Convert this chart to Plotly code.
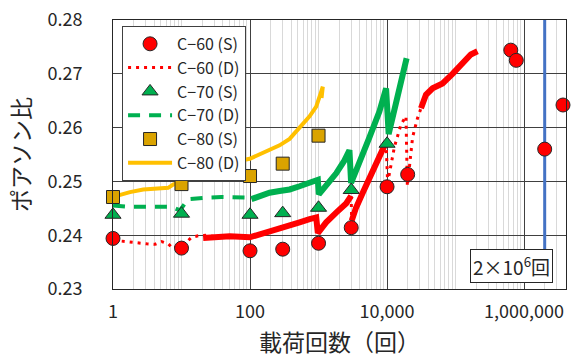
import plotly.graph_objects as go

# ---- static tests (S): cycles and Poisson's ratio ----
c60_s_n = [1, 10, 100, 300, 1000, 3000, 10000, 20000, 640000, 770000, 2000000, 3700000]
c60_s_v = [0.2394, 0.2376, 0.2371, 0.2374, 0.2385, 0.2414, 0.2490, 0.2513, 0.2744, 0.2725, 0.2560, 0.2642]

c70_s_n = [1, 10, 100, 300, 1000, 3000, 10000]
c70_s_v = [0.2438, 0.2440, 0.2438, 0.2441, 0.2451, 0.2484, 0.2570]

c80_s_n = [1, 10, 100, 300, 1000]
c80_s_v = [0.2471, 0.2495, 0.2510, 0.2533, 0.2585]

# ---- dynamic measurements (D) ----
# C-60: sparse records (dotted) and dense records (thick band)
c60_d_sparse_n = [1.34, 1.77, 2.34, 3.1, 4.09, 5.12, 6.39, 7.55, 12.5, 14, 17.5, 23.1, 32.4, 50.6, 79,
                  None, 2990, 3050,
                  None, 9680, 10200, 12800, 16000, 18900, 19800, 23600, 27900, 31300]
c60_d_sparse_v = [0.2389, 0.2387, 0.2385, 0.2384, 0.2383, 0.2388, 0.2384, 0.2375, 0.2390, 0.2396, 0.2399, 0.2400, 0.2397, 0.2397, 0.2399,
                  None, 0.2473, 0.2427,
                  None, 0.2573, 0.2497, 0.2564, 0.2606, 0.2621, 0.2491, 0.2582, 0.2618, 0.2636]
c60_d_dense_n = [20.7, 32.4, 50.6, 98.9, 138, 193, 270, 378, 529, 740, 925, 977, 1294, 1810, 2530, 2990,
                 None, 3050, 3500, 4420, 6170, 8630, 9680,
                 None, 31300, 37000, 46200, 64600, 90300, 126000, 167000, 209000]
c60_d_dense_v = [0.2395, 0.2397, 0.2398, 0.2396, 0.2401, 0.2406, 0.2412, 0.2418, 0.2424, 0.2430, 0.2433, 0.2404, 0.2424, 0.2442, 0.2459, 0.2473,
                 None, 0.2427, 0.2450, 0.2479, 0.2521, 0.2564, 0.2573,
                 None, 0.2636, 0.2661, 0.2673, 0.2682, 0.2700, 0.2720, 0.2736, 0.2742]

# C-70: sparse records (dashed) and dense records
c70_d_sparse_n = [1, 1.58, 2.62, 4.09, 6.39, 8.0, 9.46, 12.5, 17.3, 24.2, 38.3, 50.6, 66, 83.6, 104.7]
c70_d_sparse_v = [0.2455, 0.2453, 0.2453, 0.2453, 0.2453, 0.2450, 0.2446, 0.2467, 0.2469, 0.2470, 0.2471, 0.2471, 0.2470, 0.2470, 0.2467]
c70_d_dense_n = [104.7, 138, 193, 270, 378, 529, 740, 977, 1010, 1294, 1810, 2390, 2825, 2990,
                 3950, 5530, 7730, 9680, 10560, 12800, 16000, 19300]
c70_d_dense_v = [0.2467, 0.2473, 0.2479, 0.2482, 0.2485, 0.2491, 0.2497, 0.2503, 0.2476, 0.2491, 0.2515, 0.2539, 0.2558, 0.2497,
                 0.2533, 0.2582, 0.2630, 0.2673, 0.2588, 0.2636, 0.2685, 0.2729]

# C-80: continuous record
c80_d_n = [1.13, 1.77, 2.76, 4.33, 6.39, 7.55, 10, 11.8, 12.5, 18.5, 32.4, 56.5, 98.9, 138, 193, 270,
           378, 529, 740, 925, 1034, 1095, 1154, 1106]
c80_d_v = [0.2473, 0.2480, 0.2485, 0.2486, 0.2488, 0.2494, 0.2500, 0.2518, 0.2527, 0.2530, 0.2533, 0.2536, 0.2542, 0.2550, 0.2558, 0.2567,
           0.2579, 0.2600, 0.2621, 0.2639, 0.2655, 0.2667, 0.2676, 0.2655]

# 2 million cycle reference line
ref_n = [2000000, 2000000]
ref_v = [0.2369, 0.28]

y_ticks = [0.23, 0.24, 0.25, 0.26, 0.27, 0.28]
x_ticks = [1, 100, 10000, 1000000]
x_tick_text = ["1", "100", "10,000", "1,000,000"]

RED, GREEN, GOLD_LINE, GOLD_MARK = "#FF0000", "#00B050", "#FFC000", "#DAA300"
EDGE = "#262626"
FONT = "Noto Sans CJK JP"

fig = go.Figure()

# lines first so the static markers sit on top
fig.add_trace(go.Scatter(x=c60_d_sparse_n, y=c60_d_sparse_v, mode="lines", name="C−60 (D)",
                         line=dict(color=RED, width=3, dash="3px,5px"), legendrank=2,
                         connectgaps=False))
fig.add_trace(go.Scatter(x=c60_d_dense_n, y=c60_d_dense_v, mode="lines", showlegend=False,
                         line=dict(color=RED, width=6), connectgaps=False))
fig.add_trace(go.Scatter(x=c70_d_sparse_n, y=c70_d_sparse_v, mode="lines", name="C−70 (D)",
                         line=dict(color=GREEN, width=4, dash="12px,9px"), legendrank=4))
fig.add_trace(go.Scatter(x=c70_d_dense_n, y=c70_d_dense_v, mode="lines", showlegend=False,
                         line=dict(color=GREEN, width=6)))
fig.add_trace(go.Scatter(x=c80_d_n, y=c80_d_v, mode="lines", name="C−80 (D)",
                         line=dict(color=GOLD_LINE, width=4), legendrank=6))

fig.add_trace(go.Scatter(x=ref_n, y=ref_v, mode="lines", showlegend=False,
                         line=dict(color="#4472C4", width=3)))

fig.add_trace(go.Scatter(x=c60_s_n, y=c60_s_v, mode="markers", name="C−60 (S)", legendrank=1,
                         cliponaxis=False,
                         marker=dict(symbol="circle", size=14, color=RED, line=dict(color=EDGE, width=1))))
fig.add_trace(go.Scatter(x=c70_s_n, y=c70_s_v, mode="markers", name="C−70 (S)", legendrank=3,
                         cliponaxis=False,
                         marker=dict(symbol="triangle-up", size=14, color=GREEN, line=dict(color=EDGE, width=1))))
fig.add_trace(go.Scatter(x=c80_s_n, y=c80_s_v, mode="markers", name="C−80 (S)", legendrank=5,
                         cliponaxis=False,
                         marker=dict(symbol="square", size=13, color=GOLD_MARK, line=dict(color=EDGE, width=1))))

minor_vals = []
for p in range(0, 7):
    for k in range(1, 10):
        v = k * 10 ** p
        if k == 1 and p % 2 == 0:
            continue
        if v < 4.1e6:
            minor_vals.append(v)

fig.update_layout(
    width=572, height=358,
    margin=dict(l=113, r=5, t=20, b=63),
    paper_bgcolor="white", plot_bgcolor="white",
    font=dict(family=FONT, size=19, color=EDGE),
    showlegend=True,
    legend=dict(x=0.02, y=0.978, xanchor="left", yanchor="top",
                bgcolor="white", bordercolor="#404040", borderwidth=1,
                font=dict(size=16), itemwidth=44, tracegroupgap=0),
    xaxis=dict(type="log", range=[0, 6.612],
               tickmode="array", tickvals=x_ticks, ticktext=x_tick_text,
               showgrid=True, gridcolor="#404040", gridwidth=1,
               minor=dict(tickmode="array", tickvals=minor_vals, showgrid=True,
                          gridcolor="#D9D9D9", gridwidth=1, ticks=""),
               showline=True, linecolor=EDGE, linewidth=1, mirror=True,
               ticks="", ticklabelstandoff=6, zeroline=False,
               tickfont=dict(size=18),
               title=dict(text="載荷回数（回）", standoff=14)),
    yaxis=dict(range=[0.23, 0.28], tickmode="array", tickvals=y_ticks, tickformat=".2f",
               showgrid=True, gridcolor="#404040", gridwidth=1,
               showline=True, linecolor=EDGE, linewidth=1, mirror=True,
               ticks="", ticklabelstandoff=26, zeroline=False,
               tickfont=dict(size=18),
               title=dict(text="ポアソン比", standoff=10)),
    annotations=[dict(x=0.879, y=0.0873, xref="paper", yref="paper",
                      xanchor="center", yanchor="middle",
                      text="2×10<sup>6</sup>回", showarrow=False,
                      font=dict(size=19, color=EDGE),
                      bgcolor="white", bordercolor=EDGE, borderwidth=1, borderpad=2)],
)

fig.write_html("out.html")
